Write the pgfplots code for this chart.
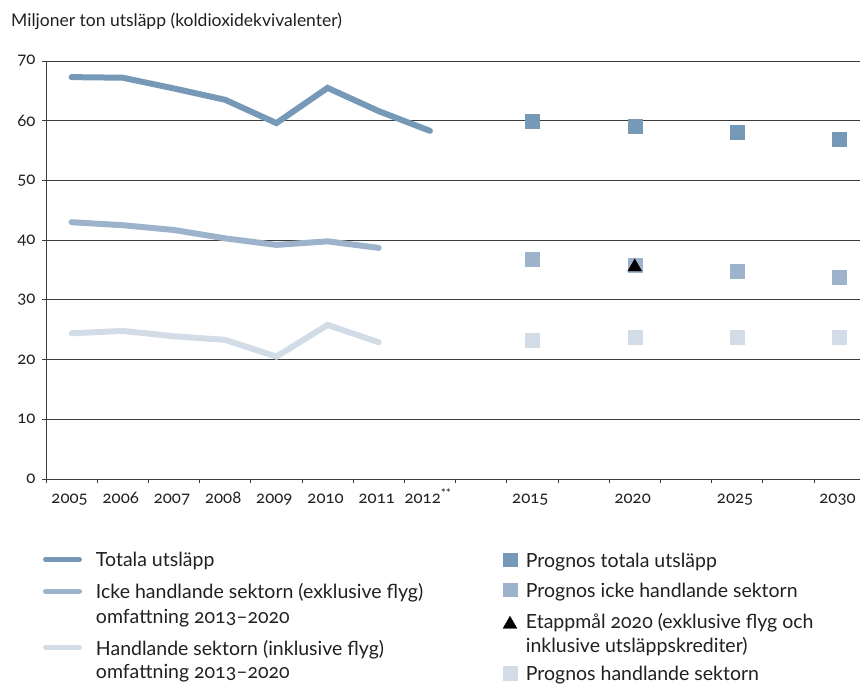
\documentclass[border=0pt]{standalone}
\usepackage{fontspec}
\setmainfont{Lato}[Numbers=OldStyle]
\usepackage{pgfplots}
\pgfplotsset{compat=1.18}
\definecolor{ctot}{RGB}{118,153,183}
\definecolor{cicke}{RGB}{157,179,204}
\definecolor{chand}{RGB}{209,220,231}
\definecolor{gridc}{RGB}{60,60,60}
\definecolor{txt}{RGB}{35,31,32}
\newcommand{\lr}[1]{\rule[-7pt]{0pt}{\dimexpr#1pt+7pt\relax}}
\begin{document}
\begin{tikzpicture}
\useasboundingbox (0,0) rectangle (860pt,686pt);
\node[anchor=base west, font=\fontsize{17.5}{20}\selectfont, text=txt, inner sep=0pt] at (11pt,659pt) {Miljoner ton utsläpp (koldioxidekvivalenter)};
\begin{axis}[
  name=main,
  at={(46pt,207pt)}, anchor=south west,
  scale only axis, width=814pt, height=418pt,
  xmin=-0.5, xmax=15.4, ymin=0, ymax=70,
  axis x line*=bottom, axis y line*=left,
  axis line style={gridc, line width=0.8pt},
  ytick={0,10,...,70},
  ymajorgrids, grid style={gridc, line width=0.8pt},
  xtick={-0.5,0.5,...,14.5}, xticklabels={},
  extra x ticks={0,1,2,3,4,5,6,7,9,11,13,15},
  extra x tick labels={2005,2006,2007,2008,2009,2010,2011,{2012\textsuperscript{**}},2015,2020,2025,2030},
  extra x tick style={major tick length=0pt, grid=none},
  xticklabel style={anchor=base, yshift=-24.3pt, xshift=-2pt},
  yticklabel style={xshift=-3pt},
  tick align=outside, major tick length=4pt,
  tick style={gridc, line width=0.8pt},
  tick label style={font=\fontsize{16.8}{20}\selectfont, text=txt},
  /pgf/number format/assume math mode=true,
  clip=false,
  legend image code/.code={\draw[#1, line width=5pt, line cap=round] (2.5pt,7.2pt) -- (36.5pt,7.2pt);},
  legend cell align=left,
  legend style={at={(-0.0037,-0.168)}, anchor=north west, draw=none, fill=none,
    inner sep=0pt, outer sep=0pt, row sep=0pt, column sep=14pt,
    font=\fontsize{19.5}{25}\selectfont, text=txt,
    nodes={inner sep=0pt, text depth=7pt}, cells={anchor=base west}},
]
\addplot[ctot, line width=6pt, line cap=round] coordinates {(0,67.3)(1,67.2)(2,65.4)(3,63.5)(4,59.6)(5,65.5)(6,61.6)(7,58.3)};
\addlegendentry{\lr{17.5}Totala utsläpp}
\addplot[cicke, line width=6pt, line cap=round] coordinates {(0,43.0)(1,42.5)(2,41.7)(3,40.3)(4,39.2)(5,39.8)(6,38.7)};
\addlegendentry{\lr{24.6}Icke handlande sektorn (exklusive flyg)}
\addlegendimage{empty legend}
\addlegendentry{\lr{18}omfattning 2013–2020}
\addplot[chand, line width=6pt, line cap=round] coordinates {(0,24.4)(1,24.8)(2,23.9)(3,23.3)(4,20.5)(5,25.8)(6,22.9)};
\addlegendentry{\lr{24.7}Handlande sektorn (inklusive flyg)}
\addlegendimage{empty legend}
\addlegendentry{\lr{16.3}omfattning 2013–2020}
\addplot[forget plot, only marks, mark=square*, mark size=7pt, ctot] coordinates {(9,60.0)(11,59.0)(13,58.0)(15,56.9)};
\addplot[forget plot, only marks, mark=square*, mark size=7pt, cicke] coordinates {(9,36.8)(11,35.8)(13,34.8)(15,33.8)};
\addplot[forget plot, only marks, mark=square*, mark size=7pt, chand] coordinates {(9,23.3)(11,23.8)(13,23.8)(15,23.8)};
\addplot[forget plot, only marks, mark=triangle*, mark size=8pt, black] coordinates {(11,35.5)};
\end{axis}
\begin{axis}[
  at={(46pt,207pt)}, anchor=south west,
  scale only axis, width=814pt, height=418pt,
  hide axis, xmin=0, xmax=1, ymin=0, ymax=1,
  legend image code/.code={\draw[#1] plot coordinates {(7pt,8pt)};},
  legend cell align=left,
  legend style={at={(0.5614,-0.1715)}, anchor=north west, draw=none, fill=none,
    inner sep=0pt, outer sep=0pt, row sep=0pt, column sep=9pt,
    font=\fontsize{19.5}{25}\selectfont, text=txt,
    nodes={inner sep=0pt, text depth=7pt}, cells={anchor=base west}},
]
\addlegendimage{only marks, mark=square*, mark size=6.8pt, ctot}
\addlegendentry{\lr{17}Prognos totala utsläpp}
\addlegendimage{only marks, mark=square*, mark size=6.8pt, cicke}
\addlegendentry{\lr{23}Prognos icke handlande sektorn}
\addlegendimage{only marks, mark=triangle*, mark size=8pt, black, every mark/.append style={yshift=-4pt}}
\addlegendentry{\lr{23.6}Etappmål 2020 (exklusive flyg och}
\addlegendimage{empty legend}
\addlegendentry{\lr{17}inklusive utsläppskrediter)}
\addlegendimage{only marks, mark=square*, mark size=6.8pt, chand}
\addlegendentry{\lr{21.7}Prognos handlande sektorn}
\end{axis}
\end{tikzpicture}
\end{document}
